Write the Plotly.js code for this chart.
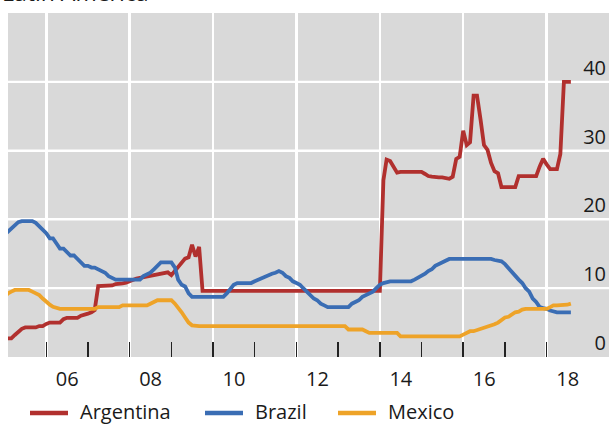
<!DOCTYPE html>
<html>
<head>
<meta charset="utf-8">
<script src="https://cdn.plot.ly/plotly-3.0.1.min.js"></script>
<style>
html,body{margin:0;padding:0;background:#fff;}
#chart{width:609px;height:424px;}
</style>
</head>
<body>
<div id="chart"></div>
<script>
// ---------- data ----------
const chartTitle = 'Latin America';
const seriesNames = ['Argentina', 'Brazil', 'Mexico'];
const firstMonth = [2005, 1]; // monthly observations start January 2005

const argentina = [
  2.7, 2.7, 2.7, 3.2, 3.7, 4.1, 4.3, 4.3, 4.3, 4.3, 4.5, 4.5,          // 2005
  4.8, 5.0, 5.0, 5.0, 5.0, 5.5, 5.7, 5.7, 5.7, 5.7, 6.0, 6.1,          // 2006
  6.3, 6.5, 6.8, 10.3, 10.3, 10.3, 10.3, 10.4, 10.6, 10.6, 10.7, 10.8, // 2007
  11.0, 11.3, 11.4, 11.5, 11.6, 11.7, 11.9, 11.9, 12.0, 12.1, 12.2, 12.3, // 2008
  11.9, 12.5, 13.2, 13.8, 14.3, 14.5, 16.3, 14.6, 16.0, 9.6, 9.6, 9.6, // 2009
  9.6, 9.6, 9.6, 9.6, 9.6, 9.6, 9.6, 9.6, 9.6, 9.6, 9.6, 9.6,          // 2010
  9.6, 9.6, 9.6, 9.6, 9.6, 9.6, 9.6, 9.6, 9.6, 9.6, 9.6, 9.6,          // 2011
  9.6, 9.6, 9.6, 9.6, 9.6, 9.6, 9.6, 9.6, 9.6, 9.6, 9.6, 9.6,          // 2012
  9.6, 9.6, 9.6, 9.6, 9.6, 9.6, 9.6, 9.6, 9.6, 9.6, 9.6, 9.6,          // 2013
  9.6, 25.7, 28.7, 28.5, 27.6, 26.8, 26.9, 26.9, 26.9, 26.9, 26.9, 26.9, // 2014
  26.9, 26.6, 26.3, 26.2, 26.1, 26.1, 26.1, 26.0, 25.9, 26.2, 28.8, 29.1, // 2015
  32.9, 30.8, 31.2, 38.0, 38.0, 34.5, 30.8, 30.1, 28.2, 27.0, 26.7, 24.7, // 2016
  24.7, 24.7, 24.7, 24.7, 26.3, 26.3, 26.3, 26.3, 26.3, 26.3, 27.7, 28.8, // 2017
  28.0, 27.3, 27.3, 27.3, 29.5, 40.0, 40.0, 40.0                        // 2018
];

const brazil = [
  17.75, 18.25, 18.75, 19.25, 19.6, 19.75, 19.75, 19.75, 19.75, 19.5, 19.0, 18.5, // 2005
  18.0, 17.25, 17.25, 16.5, 15.75, 15.75, 15.25, 14.75, 14.75, 14.25, 13.75, 13.25, // 2006
  13.25, 13.0, 13.0, 12.75, 12.5, 12.25, 11.75, 11.5, 11.25, 11.25, 11.25, 11.25, // 2007
  11.25, 11.25, 11.25, 11.25, 11.75, 12.0, 12.25, 12.75, 13.25, 13.75, 13.75, 13.75, // 2008
  13.75, 13.0, 11.25, 10.5, 10.25, 9.25, 8.75, 8.75, 8.75, 8.75, 8.75, 8.75,   // 2009
  8.75, 8.75, 8.75, 8.75, 9.25, 10.0, 10.5, 10.75, 10.75, 10.75, 10.75, 10.75, // 2010
  11.0, 11.25, 11.5, 11.75, 12.0, 12.1, 12.25, 12.5, 12.25, 11.75, 11.5, 11.0, // 2011
  10.75, 10.5, 10.0, 9.5, 9.0, 8.5, 8.25, 7.75, 7.5, 7.25, 7.25, 7.25,         // 2012
  7.25, 7.25, 7.25, 7.25, 7.75, 8.0, 8.25, 8.75, 9.0, 9.25, 9.5, 10.0,         // 2013
  10.5, 10.75, 10.9, 11.0, 11.0, 11.0, 11.0, 11.0, 11.0, 11.0, 11.25, 11.5,    // 2014
  11.75, 12.1, 12.5, 12.75, 13.25, 13.5, 13.75, 14.1, 14.25, 14.25, 14.25, 14.25, // 2015
  14.25, 14.25, 14.25, 14.25, 14.25, 14.25, 14.25, 14.25, 14.25, 14.1, 14.0, 13.9, // 2016
  13.5, 12.9, 12.25, 11.75, 11.25, 10.75, 10.0, 9.5, 8.5, 8.0, 7.25, 7.1,      // 2017
  7.0, 6.75, 6.6, 6.5, 6.5, 6.5, 6.5, 6.5                                      // 2018
];

const mexico = [
  8.75, 9.25, 9.5, 9.75, 9.75, 9.75, 9.75, 9.75, 9.5, 9.25, 9.0, 8.5,   // 2005
  8.0, 7.6, 7.3, 7.1, 7.0, 7.0, 7.0, 7.0, 7.0, 7.0, 7.0, 7.0,           // 2006
  7.0, 7.0, 7.0, 7.25, 7.25, 7.25, 7.25, 7.25, 7.25, 7.25, 7.5, 7.5,    // 2007
  7.5, 7.5, 7.5, 7.5, 7.5, 7.5, 7.75, 8.0, 8.25, 8.25, 8.25, 8.25,      // 2008
  8.25, 7.75, 7.25, 6.5, 5.75, 5.0, 4.6, 4.5, 4.5, 4.5, 4.5, 4.5,       // 2009
  4.5, 4.5, 4.5, 4.5, 4.5, 4.5, 4.5, 4.5, 4.5, 4.5, 4.5, 4.5,           // 2010
  4.5, 4.5, 4.5, 4.5, 4.5, 4.5, 4.5, 4.5, 4.5, 4.5, 4.5, 4.5,           // 2011
  4.5, 4.5, 4.5, 4.5, 4.5, 4.5, 4.5, 4.5, 4.5, 4.5, 4.5, 4.5,           // 2012
  4.5, 4.5, 4.5, 4.0, 4.0, 4.0, 4.0, 4.0, 3.75, 3.5, 3.5, 3.5,          // 2013
  3.5, 3.5, 3.5, 3.5, 3.5, 3.5, 3.0, 3.0, 3.0, 3.0, 3.0, 3.0,           // 2014
  3.0, 3.0, 3.0, 3.0, 3.0, 3.0, 3.0, 3.0, 3.0, 3.0, 3.0, 3.0,           // 2015
  3.25, 3.5, 3.75, 3.75, 3.9, 4.1, 4.25, 4.4, 4.6, 4.75, 5.0, 5.4,      // 2016
  5.75, 5.85, 6.2, 6.5, 6.6, 6.9, 7.0, 7.0, 7.0, 7.0, 7.0, 7.0,         // 2017
  7.0, 7.25, 7.5, 7.5, 7.5, 7.5, 7.6, 7.75                              // 2018
];

const yTickVals = [0, 10, 20, 30, 40];

// ---------- styling ----------
const seriesColors = ['#B1302E', '#3A6DB4', '#EEA328'];
const textColor = '#1a1a1a';
const fontFamily = '"Open Sans", "Noto Sans", "DejaVu Sans", sans-serif';
const xRange = ['2005-01-31', '2019-07-01'];

// monthly date labels for the observations
function monthDates(n) {
  const out = [];
  for (let i = 0; i < n; i++) {
    const k = firstMonth[1] - 1 + i;
    const y = firstMonth[0] + Math.floor(k / 12);
    const m = (k % 12) + 1;
    out.push(y + '-' + String(m).padStart(2, '0') + '-01');
  }
  return out;
}

// horizontal white grid lines (drawn first so the series sit on top)
const gridX = [], gridY = [];
yTickVals.filter(v => v > 0).forEach(v => {
  gridX.push(xRange[0], xRange[1], null);
  gridY.push(v, v, null);
});
const gridTrace = {
  type: 'scatter', mode: 'lines', x: gridX, y: gridY,
  line: {color: '#ffffff', width: 2}, hoverinfo: 'skip', showlegend: false,
  connectgaps: false
};

const seriesValues = [argentina, brazil, mexico];
const traces = [gridTrace].concat(seriesValues.map((vals, i) => ({
  type: 'scatter',
  mode: 'lines',
  name: seriesNames[i],
  x: monthDates(vals.length),
  y: vals,
  line: {color: seriesColors[i], width: 3.8},
  hoverinfo: 'skip'
})));

// plot-area geometry (pixels) used to place the hand-made legend and title
const W = 609, H = 424, ML = 8, MR = 0, MT = 13, MB = 67;
const PW = W - ML - MR, PH = H - MT - MB;
const px2x = px => (px - ML) / PW;
const py2y = py => (H - MB - py) / PH;

const legendLineStart = [30, 205, 338];
const legendLineLen = 38;
const legendTextGap = 10;
const legendY = 411;

const shapes = [];
const annotations = [];

seriesNames.forEach((name, i) => {
  shapes.push({
    type: 'line', xref: 'paper', yref: 'paper',
    x0: px2x(legendLineStart[i]), x1: px2x(legendLineStart[i] + legendLineLen),
    y0: py2y(legendY + 2), y1: py2y(legendY + 2),
    line: {color: seriesColors[i], width: 4.5}
  });
  annotations.push({
    xref: 'paper', yref: 'paper',
    x: px2x(legendLineStart[i] + legendLineLen + legendTextGap), y: py2y(legendY),
    xanchor: 'left', yanchor: 'middle', showarrow: false,
    text: name, font: {family: fontFamily, size: 20, color: textColor}
  });
});
annotations.push({
  xref: 'paper', yref: 'paper',
  x: px2x(0), y: py2y(10), xanchor: 'left', yanchor: 'bottom', showarrow: false,
  text: chartTitle, font: {family: fontFamily, size: 23, color: textColor}
});

const layout = {
  width: W, height: H,
  margin: {l: ML, r: MR, t: MT, b: MB, pad: 0},
  paper_bgcolor: '#ffffff',
  plot_bgcolor: '#D9D9D9',
  showlegend: false,
  font: {family: fontFamily, size: 20, color: textColor},
  xaxis: {
    type: 'date',
    range: xRange,
    tickmode: 'linear', tick0: '2006-01-01', dtick: 'M24',
    tickformat: '%y',
    ticks: 'inside', ticklen: 15, tickwidth: 1.5, tickcolor: '#222',
    ticklabelshift: 21,
    ticklabelstandoff: 8,
    showgrid: true, gridcolor: '#ffffff', gridwidth: 2.5,
    zeroline: false, showline: false,
    minor: {
      tick0: '2005-01-01', dtick: 'M12',
      ticks: 'inside', ticklen: 15, tickwidth: 1.5, tickcolor: '#222',
      showgrid: false
    },
    tickfont: {family: fontFamily, size: 20, color: textColor},
    fixedrange: true
  },
  yaxis: {
    range: [0, 50],
    side: 'right',
    tickmode: 'array', tickvals: yTickVals,
    ticks: '',
    ticklabelposition: 'inside',
    ticklabelshift: -14,
    showgrid: true, gridcolor: '#ffffff', gridwidth: 2,
    zeroline: false, showline: false,
    tickfont: {family: fontFamily, size: 20, color: textColor},
    fixedrange: true
  },
  shapes: shapes,
  annotations: annotations
};

Plotly.newPlot('chart', traces, layout, {staticPlot: true, displayModeBar: false});
</script>
</body>
</html>
